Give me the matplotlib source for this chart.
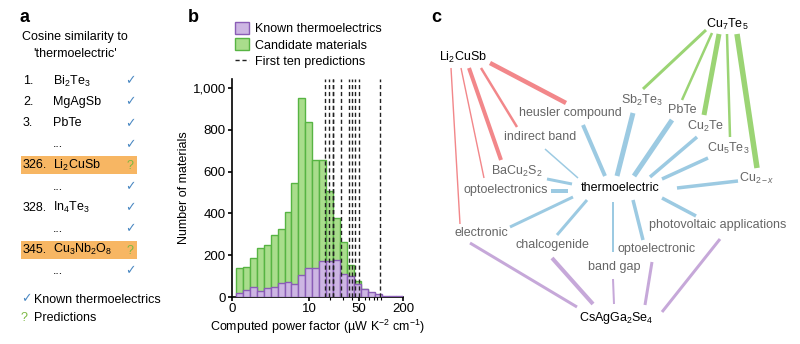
import numpy as np
import matplotlib
matplotlib.use("Agg")
import matplotlib.pyplot as plt
from matplotlib.patches import Patch, Rectangle
from matplotlib.lines import Line2D
from matplotlib.ticker import FixedLocator, FuncFormatter

plt.rcParams['font.family'] = ['Liberation Sans', 'DejaVu Sans']
plt.rcParams['mathtext.fontset'] = 'custom'
plt.rcParams['mathtext.rm'] = 'Liberation Sans'
plt.rcParams['mathtext.it'] = 'Liberation Sans:italic'
plt.rcParams['mathtext.default'] = 'regular'
plt.rcParams['font.size'] = 9

# ---------------- panel a: ranked list ----------------
rank_labels = ['1.', '2.', '3.', '', '326.', '', '328.', '', '345.', '']
rank_names = ['Bi$_2$Te$_3$', 'MgAgSb', 'PbTe', '...', 'Li$_2$CuSb', '...',
              'In$_4$Te$_3$', '...', 'Cu$_3$Nb$_2$O$_8$', '...']
rank_status = ['known', 'known', 'known', 'known', 'predicted', 'known',
               'known', 'known', 'predicted', 'known']

# ---------------- panel b: histogram ----------------
candidate_counts = [138, 145, 188, 233, 251, 295, 326, 409, 545, 952, 839, 657,
                    657, 505, 377, 265, 155, 75, 37, 20, 0, 0, 0, 0]
known_counts = [20, 35, 50, 27, 43, 47, 68, 74, 63, 105, 140, 140,
                172, 172, 175, 110, 100, 60, 40, 25, 15, 6, 6, 6]
prediction_pf = [16.9, 19.1, 21.6, 21.9, 28.1, 36.1, 40.3, 45.0, 50.7, 96.3]
y_ticks = [0, 200, 400, 600, 800, 1000]
x_ticks = [0, 10, 50, 200]

# ---------------- panel c: word-embedding graph ----------------
hub_nodes = ['Li2CuSb', 'Cu7Te5', 'thermoelectric', 'CsAgGa2Se4']
node_text = {
    'Li2CuSb': 'Li$_2$CuSb', 'Cu7Te5': 'Cu$_7$Te$_5$', 'thermoelectric': 'thermoelectric',
    'CsAgGa2Se4': 'CsAgGa$_2$Se$_4$', 'heusler compound': 'heusler compound',
    'indirect band': 'indirect band', 'BaCu2S2': 'BaCu$_2$S$_2$',
    'optoelectronics': 'optoelectronics', 'electronic': 'electronic',
    'chalcogenide': 'chalcogenide', 'band gap': 'band gap',
    'optoelectronic': 'optoelectronic',
    'photovoltaic applications': 'photovoltaic applications',
    'Cu2-x': 'Cu$_{2\u2212\\mathit{x}}$', 'Sb2Te3': 'Sb$_2$Te$_3$', 'PbTe': 'PbTe',
    'Cu2Te': 'Cu$_2$Te', 'Cu5Te3': 'Cu$_5$Te$_3$',
}
# edge strengths (drawn as line widths, px)
edge_strength = {
    ('Li2CuSb', 'heusler compound'): 4.5, ('Li2CuSb', 'indirect band'): 2.5,
    ('Li2CuSb', 'BaCu2S2'): 4.0, ('Li2CuSb', 'optoelectronics'): 1.4,
    ('Li2CuSb', 'electronic'): 1.4,
    ('Cu7Te5', 'Sb2Te3'): 3.0, ('Cu7Te5', 'PbTe'): 2.5, ('Cu7Te5', 'Cu2Te'): 5.0,
    ('Cu7Te5', 'Cu5Te3'): 2.5, ('Cu7Te5', 'Cu2-x'): 5.5,
    ('thermoelectric', 'heusler compound'): 4.0, ('thermoelectric', 'indirect band'): 1.5,
    ('thermoelectric', 'BaCu2S2'): 3.0, ('thermoelectric', 'optoelectronics'): 4.0,
    ('thermoelectric', 'Sb2Te3'): 5.0, ('thermoelectric', 'PbTe'): 5.0,
    ('thermoelectric', 'Cu2Te'): 3.5, ('thermoelectric', 'Cu5Te3'): 3.5,
    ('thermoelectric', 'Cu2-x'): 3.5, ('thermoelectric', 'photovoltaic applications'): 3.5,
    ('thermoelectric', 'optoelectronic'): 3.5, ('thermoelectric', 'band gap'): 2.0,
    ('thermoelectric', 'chalcogenide'): 3.0, ('thermoelectric', 'electronic'): 3.0,
    ('CsAgGa2Se4', 'electronic'): 3.0, ('CsAgGa2Se4', 'chalcogenide'): 4.0,
    ('CsAgGa2Se4', 'band gap'): 2.0, ('CsAgGa2Se4', 'optoelectronic'): 3.0,
    ('CsAgGa2Se4', 'photovoltaic applications'): 3.0,
}

# ---------------- layout (figure pixel coordinates) ----------------
W, H = 800, 344
node_pos = {
    'Li2CuSb': (463, 57), 'Cu7Te5': (727, 24), 'thermoelectric': (620, 188),
    'CsAgGa2Se4': (616, 318), 'heusler compound': (570, 113),
    'indirect band': (540, 137), 'BaCu2S2': (517, 171), 'optoelectronics': (506, 190),
    'electronic': (481, 233), 'chalcogenide': (552, 245), 'band gap': (614, 267),
    'optoelectronic': (657, 249), 'photovoltaic applications': (718, 225),
    'Cu2-x': (757, 178), 'Sb2Te3': (642, 100), 'PbTe': (682, 110),
    'Cu2Te': (706, 126), 'Cu5Te3': (728, 148),
}
edge_ends = {
    ('Li2CuSb', 'heusler compound'): ((490, 63), (566, 103)),
    ('Li2CuSb', 'indirect band'): ((481, 68), (517, 127)),
    ('Li2CuSb', 'BaCu2S2'): ((469, 68), (501, 160)),
    ('Li2CuSb', 'optoelectronics'): ((461, 68), (484, 178)),
    ('Li2CuSb', 'electronic'): ((451, 68), (460, 224)),
    ('Cu7Te5', 'Sb2Te3'): ((706, 30), (643, 89)),
    ('Cu7Te5', 'PbTe'): ((712, 33), (682, 100)),
    ('Cu7Te5', 'Cu2Te'): ((719, 34), (704, 115)),
    ('Cu7Te5', 'Cu5Te3'): ((727, 34), (730, 137)),
    ('Cu7Te5', 'Cu2-x'): ((737, 34), (757, 168)),
    ('thermoelectric', 'heusler compound'): ((605, 176), (583, 125)),
    ('thermoelectric', 'indirect band'): ((578, 178), (545, 149)),
    ('thermoelectric', 'BaCu2S2'): ((572, 184), (547, 179)),
    ('thermoelectric', 'optoelectronics'): ((568, 191), (551, 191)),
    ('thermoelectric', 'Sb2Te3'): ((617, 176), (633, 113)),
    ('thermoelectric', 'PbTe'): ((634, 176), (672, 120)),
    ('thermoelectric', 'Cu2Te'): ((650, 177), (697, 137)),
    ('thermoelectric', 'Cu5Te3'): ((662, 179), (708, 158)),
    ('thermoelectric', 'Cu2-x'): ((677, 188), (738, 181)),
    ('thermoelectric', 'photovoltaic applications'): ((662, 198), (696, 216)),
    ('thermoelectric', 'optoelectronic'): ((633, 200), (643, 240)),
    ('thermoelectric', 'band gap'): ((613, 202), (613, 252)),
    ('thermoelectric', 'chalcogenide'): ((587, 200), (557, 235)),
    ('thermoelectric', 'electronic'): ((573, 197), (510, 227)),
    ('CsAgGa2Se4', 'electronic'): ((577, 307), (470, 243)),
    ('CsAgGa2Se4', 'chalcogenide'): ((593, 304), (552, 258)),
    ('CsAgGa2Se4', 'band gap'): ((614, 304), (613, 279)),
    ('CsAgGa2Se4', 'optoelectronic'): ((645, 305), (652, 262)),
    ('CsAgGa2Se4', 'photovoltaic applications'): ((662, 312), (720, 239)),
}
hub_colors = {'Li2CuSb': '#F2878A', 'Cu7Te5': '#9BD474',
              'thermoelectric': '#9CCAE2', 'CsAgGa2Se4': '#C6A8D9'}

PURPLE_FILL, PURPLE_EDGE = '#CDB6E3', '#8A5DB6'
GREEN_FILL, GREEN_EDGE = '#A9DD8C', '#57B443'
CHECK_BLUE, Q_GREEN, HILITE = '#4A88C2', '#7DB843', '#F7B663'
GRAY_TEXT = '#666666'

fig = plt.figure(figsize=(W / 100, H / 100), dpi=100)

# canvas in pixel units for panels a and c
canvas = fig.add_axes([0, 0, 1, 1])
canvas.set_xlim(0, W)
canvas.set_ylim(H, 0)
canvas.axis('off')

# --- panel a ---
canvas.text(20, 17, 'a', fontsize=13, fontweight='heavy', va='center', ha='left')
canvas.text(75, 37, 'Cosine similarity to', ha='center', va='center')
canvas.text(75, 54, "'thermoelectric'", ha='center', va='center')
row_y0, row_dy = 81, 21.1
for i, (lab, name, st) in enumerate(zip(rank_labels, rank_names, rank_status)):
    y = row_y0 + i * row_dy
    if st == 'predicted':
        canvas.add_patch(Rectangle((21, y - 9), 116, 18, facecolor=HILITE,
                                   edgecolor='none', zorder=0))
    if lab:
        canvas.text(23, y, lab, ha='left', va='center')
    canvas.text(53, y, name, ha='left', va='center')
    if st == 'known':
        canvas.text(130, y, '\u2713', ha='center', va='center', color=CHECK_BLUE,
                    family=['DejaVu Sans'], fontsize=9)
    else:
        canvas.text(130, y + 1, '?', ha='center', va='center', color=Q_GREEN)
canvas.text(26, 299, '\u2713', ha='center', va='center', color=CHECK_BLUE,
            family=['DejaVu Sans'], fontsize=9)
canvas.text(34, 300, 'Known thermoelectrics', ha='left', va='center')
canvas.text(24, 318, '?', ha='center', va='center', color=Q_GREEN)
canvas.text(34, 318, 'Predictions', ha='left', va='center')

# --- panel c ---
canvas.text(431, 17, 'c', fontsize=13, fontweight='heavy', va='center', ha='left')
for (src, dst), strength in edge_strength.items():
    (x0, y0), (x1, y1) = edge_ends[(src, dst)]
    canvas.plot([x0, x1], [y0, y1], color=hub_colors[src], lw=strength * 0.72,
                solid_capstyle='butt', zorder=1)
for key, (x, y) in node_pos.items():
    canvas.text(x, y, node_text[key], ha='center', va='center', zorder=3,
                color='black' if key in hub_nodes else GRAY_TEXT)

# --- panel b ---
fig.text(188 / W, 1 - 17 / H, 'b', fontsize=13, fontweight='heavy', va='center', ha='left')
ax = fig.add_axes([232 / W, 1 - 297 / H, 171 / W, 218 / H])


def fwd(x):
    return np.log10(1 + np.clip(x, -0.999, None))


def inv(t):
    return 10 ** t - 1


ax.set_xscale('function', functions=(fwd, inv))
bin_edges = inv(np.linspace(0.05, np.log10(201), len(candidate_counts) + 1))
widths = np.diff(bin_edges)
ax.bar(bin_edges[:-1], candidate_counts, width=widths, align='edge',
       color=GREEN_FILL, edgecolor=GREEN_EDGE, lw=1.0, zorder=2)
ax.bar(bin_edges[:-1], known_counts, width=widths, align='edge',
       color=PURPLE_FILL, edgecolor=PURPLE_EDGE, lw=1.0, zorder=3)
for pf in prediction_pf:
    ax.axvline(pf, color='#222222', lw=1.0, ls=(0, (3, 2)), zorder=4)

ax.set_xlim(0, 200)
ax.set_ylim(0, 1043)
ax.xaxis.set_major_locator(FixedLocator(x_ticks))
ax.xaxis.set_minor_locator(FixedLocator([20, 30, 40, 60, 70, 80, 90, 100]))
ax.yaxis.set_major_locator(FixedLocator(y_ticks))
ax.yaxis.set_major_formatter(FuncFormatter(lambda v, p: f'{int(v):,}'))
ax.xaxis.set_major_formatter(FuncFormatter(lambda v, p: f'{int(v)}'))
for s in ('top', 'right'):
    ax.spines[s].set_visible(False)
for s in ('left', 'bottom'):
    ax.spines[s].set_linewidth(1.2)
ax.tick_params(axis='both', which='major', length=3, width=1.2, labelsize=9.5, pad=1.5)
ax.tick_params(axis='x', which='minor', length=2, width=0.8)
ax.set_ylabel('Number of materials', fontsize=9, labelpad=2)
ax.set_xlabel('Computed power factor (\u00b5W K$^{\u22122}$ cm$^{\u22121}$)', fontsize=9,
              labelpad=2)

handles = [Patch(facecolor=PURPLE_FILL, edgecolor=PURPLE_EDGE, lw=1.0),
           Patch(facecolor=GREEN_FILL, edgecolor=GREEN_EDGE, lw=1.0),
           Line2D([], [], color='#222222', lw=1.0, ls=(0, (3, 2)))]
fig.legend(handles, ['Known thermoelectrics', 'Candidate materials', 'First ten predictions'],
           loc='upper left', bbox_to_anchor=(235 / W, 1 - 22 / H), frameon=False,
           fontsize=9, handlelength=1.1, handleheight=1.1, handletextpad=0.5,
           labelspacing=0.25, borderpad=0, borderaxespad=0)

fig.savefig('out.png', dpi=100)
